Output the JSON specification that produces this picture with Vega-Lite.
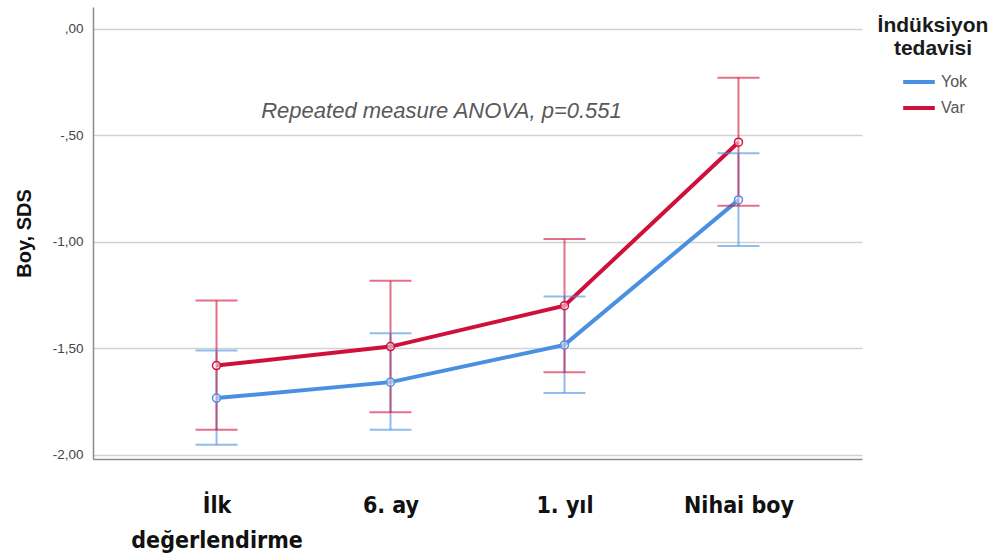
{
  "$schema": "https://vega.github.io/schema/vega-lite/v6.json",
  "width": 769,
  "height": 452,
  "autosize": {"type": "none"},
  "padding": {"left": 93, "top": 7, "right": 139, "bottom": 100},
  "background": "white",
  "config": {"view": {"stroke": null}},
  "data": {
    "values": [
      {"zaman": "İlk değerlendirme", "grup": "Yok", "ort": -1.734, "alt": -1.953, "ust": -1.510},
      {"zaman": "6. ay", "grup": "Yok", "ort": -1.659, "alt": -1.883, "ust": -1.429},
      {"zaman": "1. yıl", "grup": "Yok", "ort": -1.484, "alt": -1.710, "ust": -1.257},
      {"zaman": "Nihai boy", "grup": "Yok", "ort": -0.803, "alt": -1.019, "ust": -0.584},
      {"zaman": "İlk değerlendirme", "grup": "Var", "ort": -1.581, "alt": -1.883, "ust": -1.276},
      {"zaman": "6. ay", "grup": "Var", "ort": -1.492, "alt": -1.801, "ust": -1.183},
      {"zaman": "1. yıl", "grup": "Var", "ort": -1.300, "alt": -1.612, "ust": -0.987},
      {"zaman": "Nihai boy", "grup": "Var", "ort": -0.532, "alt": -0.831, "ust": -0.229}
    ]
  },
  "encoding": {
    "x": {
      "field": "zaman",
      "type": "nominal",
      "sort": ["İlk değerlendirme", "6. ay", "1. yıl", "Nihai boy"],
      "scale": {"type": "point", "padding": 0.71},
      "axis": {
        "title": null,
        "labelAngle": 0,
        "labelExpr": "datum.value == 'İlk değerlendirme' ? ['İlk', 'değerlendirme'] : datum.value",
        "labelFont": "DejaVu Sans Condensed, DejaVu Sans",
        "labelFontWeight": "bold",
        "labelFontSize": 23,
        "labelColor": "#111111",
        "labelPadding": 35,
        "labelLineHeight": 35,
        "labelOverlap": false,
        "labelFlush": false,
        "labelBound": false,
        "ticks": false,
        "grid": false,
        "domainColor": "#8a8a8a",
        "domainWidth": 1.5
      }
    },
    "color": {
      "field": "grup",
      "type": "nominal",
      "scale": {"domain": ["Yok", "Var"], "range": ["#4A90E2", "#D0103A"]},
      "legend": null
    }
  },
  "layer": [
    {
      "mark": {"type": "line", "strokeWidth": 4},
      "encoding": {
        "y": {
          "field": "ort",
          "type": "quantitative",
          "title": "Boy, SDS",
          "scale": {"domain": [-2.02, 0.103], "nice": false, "zero": false},
          "axis": {
            "values": [-2, -1.5, -1, -0.5, 0],
            "labelExpr": "(datum.value < 0 ? '-' : '') + (abs(datum.value) < 1 ? replace(format(abs(datum.value), '.2f'), '0.', ',') : replace(format(abs(datum.value), '.2f'), '.', ','))",
            "labelFont": "Liberation Sans",
            "labelFontSize": 13.5,
            "labelColor": "#444444",
            "labelPadding": 10,
            "ticks": false,
            "grid": true,
            "gridColor": "#d2d2d2",
            "gridWidth": 1.6,
            "domainColor": "#8a8a8a",
            "domainWidth": 1.5,
            "titleFont": "Liberation Sans",
            "titleFontSize": 20,
            "titleFontWeight": "bold",
            "titleColor": "#111111",
            "titlePadding": 18
          }
        },
        "color": {
          "field": "grup",
          "type": "nominal",
          "scale": {"domain": ["Yok", "Var"], "range": ["#4A90E2", "#D0103A"]},
          "legend": {
            "orient": "none",
            "legendX": 785,
            "legendY": 8,
            "title": ["İndüksiyon", "tedavisi"],
            "titleFont": "Liberation Sans",
            "titleFontSize": 21,
            "titleFontWeight": "bold",
            "titleColor": "#1a1a1a",
            "titleLineHeight": 23,
            "titleAlign": "center",
            "titleAnchor": "middle",
            "labelFont": "Liberation Sans",
            "labelFontSize": 16,
            "labelColor": "#555555",
            "labelOffset": 4,
            "symbolType": "stroke",
            "symbolStrokeWidth": 4,
            "symbolSize": 1000,
            "symbolOffset": 2,
            "rowPadding": -10
          }
        }
      }
    },
    {
      "mark": {"type": "rule", "strokeWidth": 2, "opacity": 0.6},
      "encoding": {
        "y": {"field": "alt", "type": "quantitative", "title": "Boy, SDS"},
        "y2": {"field": "ust"}
      }
    },
    {
      "mark": {"type": "tick", "orient": "horizontal", "thickness": 2, "size": 42, "opacity": 0.6},
      "encoding": {"y": {"field": "alt", "type": "quantitative", "title": "Boy, SDS"}}
    },
    {
      "mark": {"type": "tick", "orient": "horizontal", "thickness": 2, "size": 42, "opacity": 0.6},
      "encoding": {"y": {"field": "ust", "type": "quantitative", "title": "Boy, SDS"}}
    },
    {
      "mark": {"type": "point", "filled": false, "fill": "white", "fillOpacity": 0.5, "size": 64, "strokeWidth": 1.5, "opacity": 1},
      "encoding": {"y": {"field": "ort", "type": "quantitative", "title": "Boy, SDS"}}
    },
    {
      "data": {"values": [{"zaman": "6. ay", "konum": -0.418, "metin": "Repeated measure ANOVA, p=0.551"}]},
      "mark": {
        "type": "text",
        "dx": 51,
        "align": "center",
        "baseline": "alphabetic",
        "font": "Liberation Sans",
        "fontStyle": "italic",
        "fontSize": 22
      },
      "encoding": {
        "y": {"field": "konum", "type": "quantitative", "title": "Boy, SDS"},
        "text": {"field": "metin"},
        "color": {"value": "#595959"}
      }
    }
  ]
}
